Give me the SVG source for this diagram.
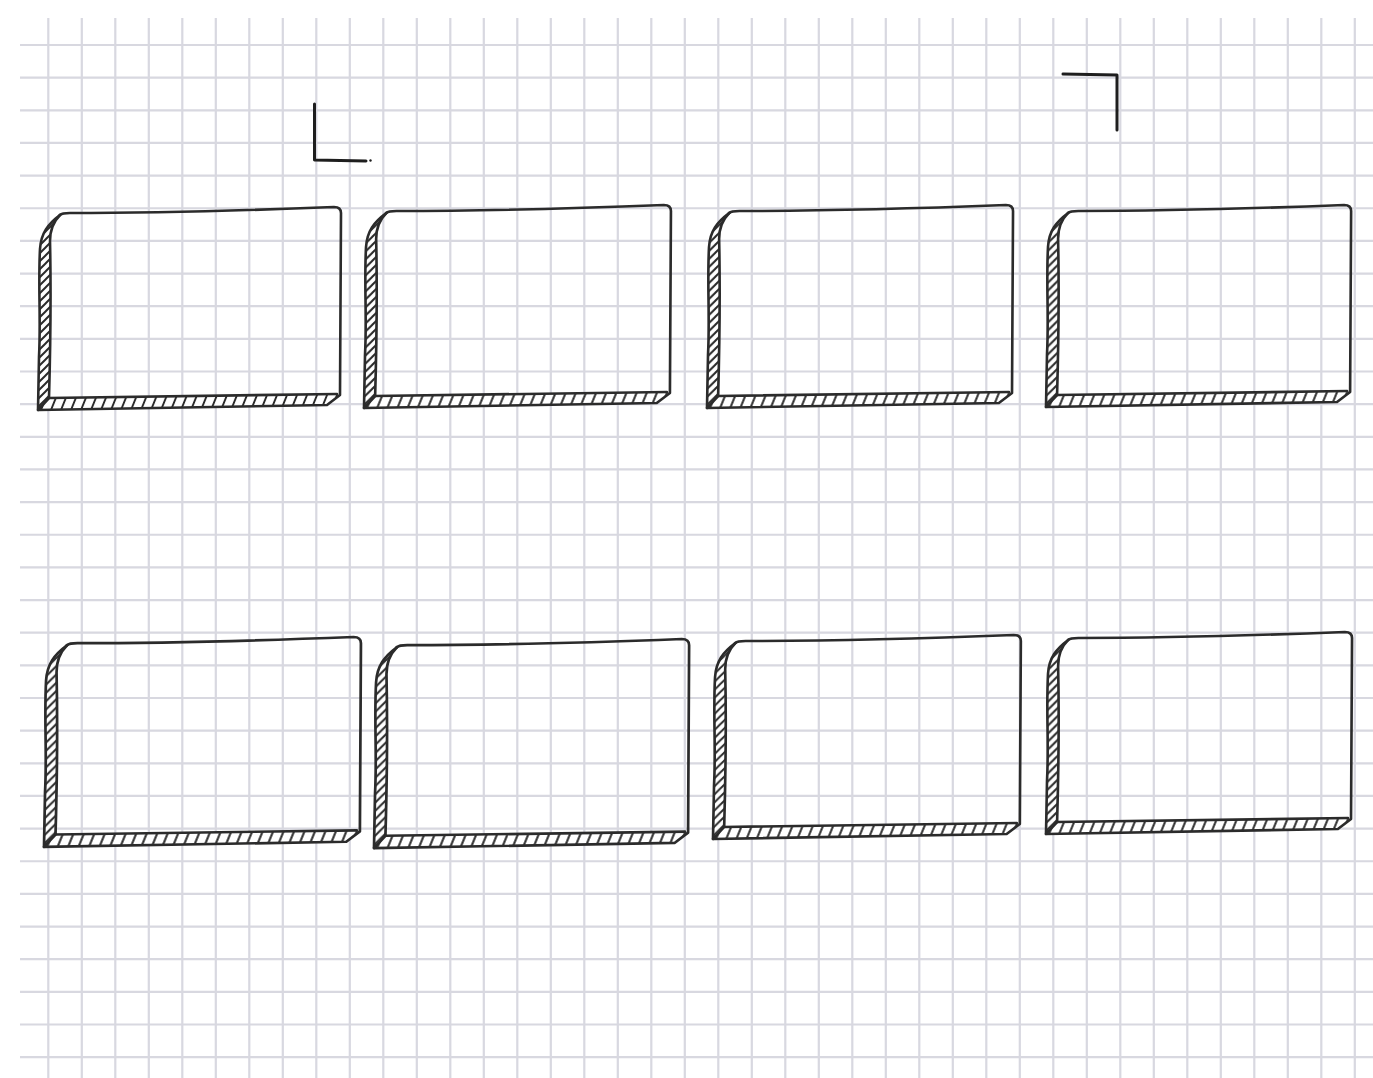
<svg xmlns="http://www.w3.org/2000/svg" xmlns:xlink="http://www.w3.org/1999/xlink" width="1373" height="1078" viewBox="0 0 1373 1078">
<style>
.grid{fill:none;stroke:#d8d8e0;stroke-width:2.2}
.ol{fill:none;stroke:#2b2b2b;stroke-width:2.6;stroke-linejoin:round;stroke-linecap:round}
.mark{fill:none;stroke:#1e1e1e;stroke-width:3;stroke-linecap:round;stroke-linejoin:round}
</style>
<defs>
<pattern id="hL" patternUnits="userSpaceOnUse" width="8" height="8">
<rect width="8" height="8" fill="#fff"/>
<path d="M-1,9 L9,-1 M-1,1 L1,-1 M7,9 L9,7" stroke="#2b2b2b" stroke-width="2"/>
</pattern>
<pattern id="hB" patternUnits="userSpaceOnUse" width="10" height="20" patternTransform="skewX(-22)">
<rect width="10" height="20" fill="#fff"/>
<path d="M5,-1 V21" stroke="#2b2b2b" stroke-width="2.1"/>
</pattern>
<g id="slab">
<path d="M22,8 C10,17 3,26 2,42 C0,80 3,110 1,150 L0,203 L11,191 C13,120 13,80 12,34 C12,24 15,15 22,8 Z" fill="url(#hL)"/>
<path d="M0,203 L11,191 L299,187 L302,188 L289,198 Z" fill="url(#hB)"/>
<path class="ol" d="M22,8 Q24,6 32,6 C120,6 220,3 296,0 Q303,0 303,6 L302,188 L289,198 L0,203"/>
<path class="ol" d="M22,8 C10,17 3,26 2,42 C0,80 3,110 1,150 L0,203 L11,191"/>
<path class="ol" d="M22,8 C15,15 12,24 12,34 C13,80 13,120 11,191 L299,187"/>
</g>
</defs>
<rect width="1373" height="1078" fill="#fff"/>
<g id="grid">
<path class="grid" d="M48.3 18V1078M81.8 18V1078M115.3 18V1078M148.8 18V1078M182.3 18V1078M215.8 18V1078M249.3 18V1078M282.8 18V1078M316.3 18V1078M349.8 18V1078M383.3 18V1078M416.8 18V1078M450.3 18V1078M483.8 18V1078M517.3 18V1078M550.8 18V1078M584.3 18V1078M617.8 18V1078M651.3 18V1078M684.8 18V1078M718.3 18V1078M751.8 18V1078M785.3 18V1078M818.8 18V1078M852.3 18V1078M885.8 18V1078M919.3 18V1078M952.8 18V1078M986.3 18V1078M1019.8 18V1078M1053.3 18V1078M1086.8 18V1078M1120.3 18V1078M1153.8 18V1078M1187.3 18V1078M1220.8 18V1078M1254.3 18V1078M1287.8 18V1078M1321.3 18V1078M1354.8 18V1078"/>
<path class="grid" d="M20 45H1373M20 77.65H1373M20 110.3H1373M20 142.95H1373M20 175.6H1373M20 208.25H1373M20 240.9H1373M20 273.55H1373M20 306.2H1373M20 338.85H1373M20 371.5H1373M20 404.15H1373M20 436.8H1373M20 469.45H1373M20 502.1H1373M20 534.75H1373M20 567.4H1373M20 600.05H1373M20 632.7H1373M20 665.35H1373M20 698H1373M20 730.65H1373M20 763.3H1373M20 795.95H1373M20 828.6H1373M20 861.25H1373M20 893.9H1373M20 926.55H1373M20 959.2H1373M20 991.85H1373M20 1024.5H1373M20 1057.15H1373"/>
</g>
<g id="crop-marks">
<path class="mark" d="M314.5,104 L314.5,160 L366,161"/>
<circle cx="370.5" cy="160.5" r="1.2" fill="#1e1e1e"/>
<path class="mark" d="M1063,74 L1117,75 L1117,130"/>
</g>
<g id="connectors"/>
<g id="box1"><use xlink:href="#slab" href="#slab" transform="translate(38,207)"/></g>
<g id="box2"><use xlink:href="#slab" href="#slab" transform="translate(364,205) scale(1.013,1.0)"/></g>
<g id="box3"><use xlink:href="#slab" href="#slab" transform="translate(707,205) scale(1.01,1.0)"/></g>
<g id="box4"><use xlink:href="#slab" href="#slab" transform="translate(1046,205) scale(1.007,0.995)"/></g>
<g id="box5"><use xlink:href="#slab" href="#slab" transform="translate(44,637) scale(1.046,1.034)"/></g>
<g id="box6"><use xlink:href="#slab" href="#slab" transform="translate(374,639) scale(1.04,1.03)"/></g>
<g id="box7"><use xlink:href="#slab" href="#slab" transform="translate(713,635) scale(1.016,1.005)"/></g>
<g id="box8"><use xlink:href="#slab" href="#slab" transform="translate(1046,632) scale(1.01,0.995)"/></g>
</svg>
